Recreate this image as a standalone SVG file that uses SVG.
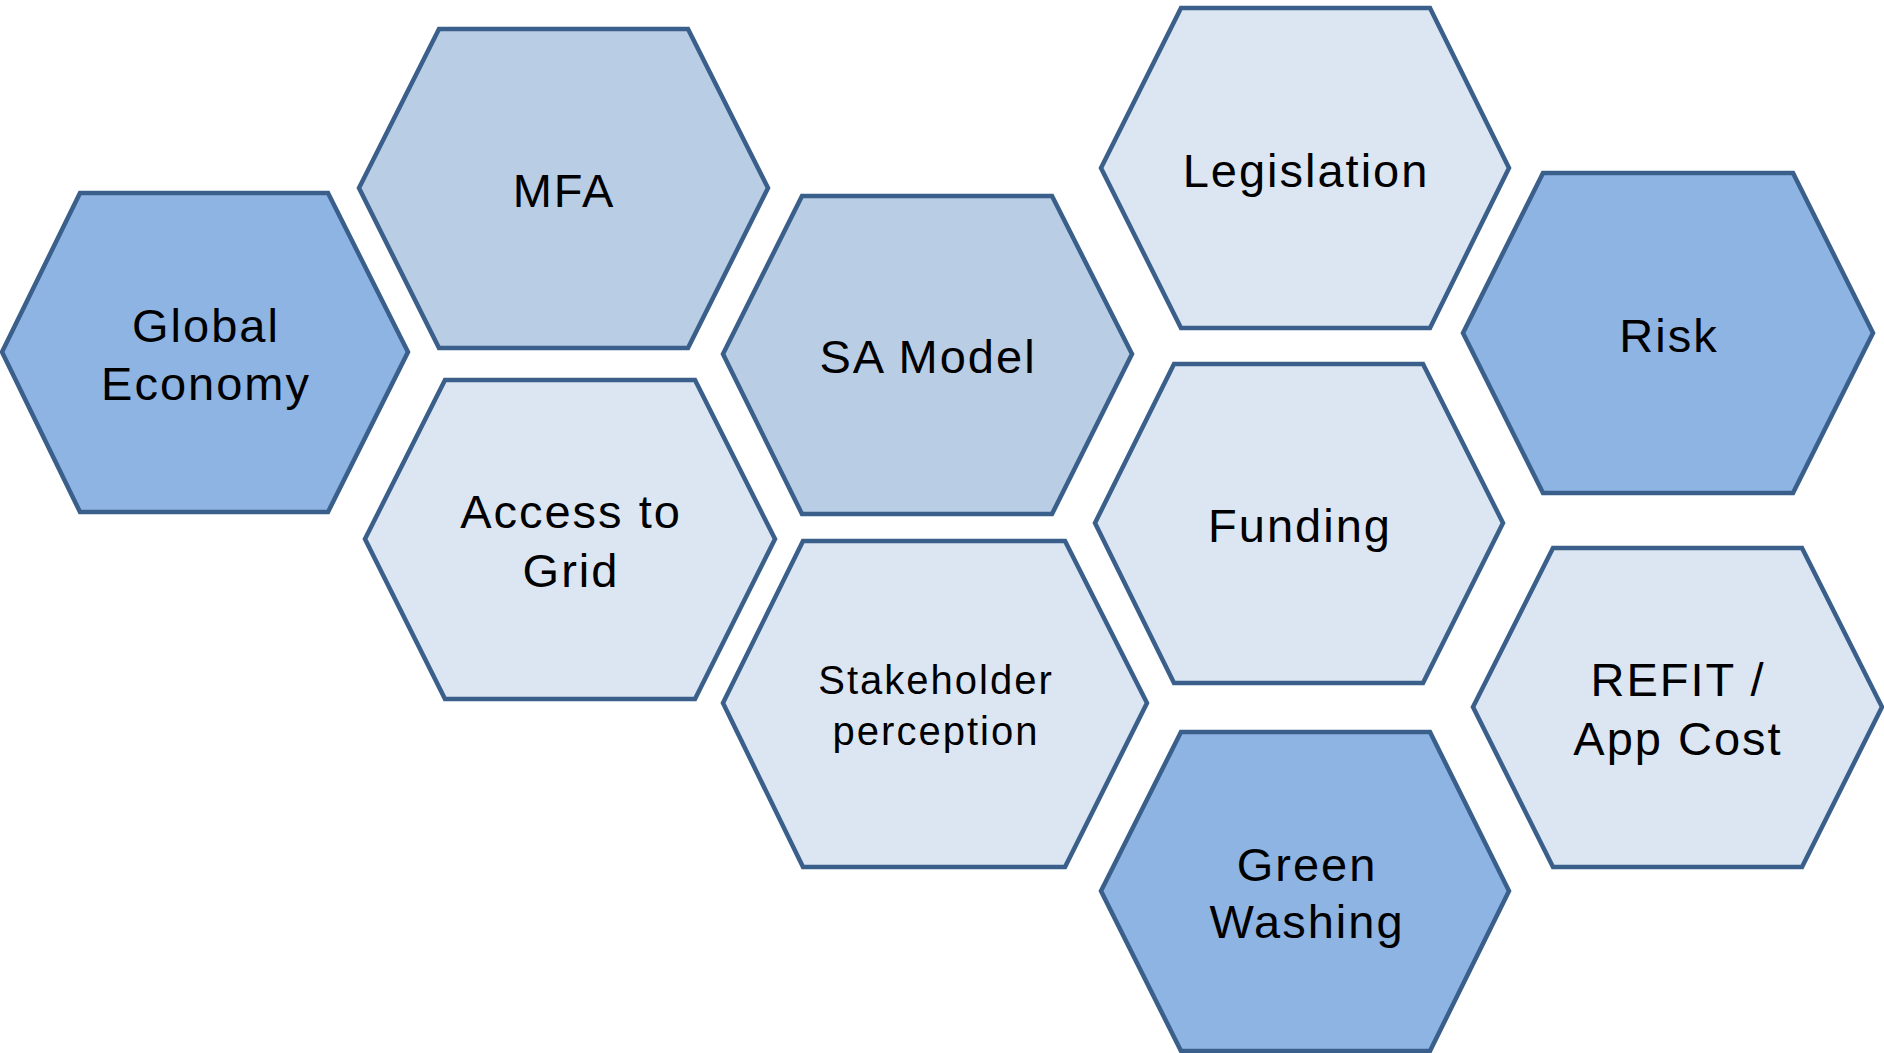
<svg xmlns="http://www.w3.org/2000/svg" width="1884" height="1053" viewBox="0 0 1884 1053">
<style>
.hex{stroke:#3A5F8B;stroke-width:4.5;stroke-linejoin:miter}
.d{fill:#8EB4E3}.m{fill:#B9CDE5}.l{fill:#DCE6F2}
.t{font-family:"Liberation Sans",Arial,sans-serif;font-size:47px;fill:#000;text-anchor:middle;letter-spacing:2px}
.s{font-size:40px}
</style>
<rect width="1884" height="1053" fill="#fff"/>
<g id="connectors"/>
<g id="global-economy">
<polygon class="hex d" points="2,352 80,193 328,193 408,352 328,512 80,512"/>
<text class="t" x="206" y="342">Global</text>
<text class="t" x="206" y="400">Economy</text>
</g>
<g id="mfa">
<polygon class="hex m" points="359,188 439,29 688,29 768,188 688,348 439,348"/>
<text class="t" x="564" y="207">MFA</text>
</g>
<g id="access-to-grid">
<polygon class="hex l" points="365,539 445,380 695,380 775,539 695,699 445,699"/>
<text class="t" x="571" y="528">Access to</text>
<text class="t" x="571" y="587">Grid</text>
</g>
<g id="sa-model">
<polygon class="hex m" points="723,354 802,196 1052,196 1132,354 1052,514 802,514"/>
<text class="t" x="928" y="373">SA Model</text>
</g>
<g id="stakeholder-perception">
<polygon class="hex l" points="723,703 803,541 1065,541 1147,703 1065,867 803,867"/>
<text class="t s" x="936" y="694">Stakeholder</text>
<text class="t s" x="936" y="745">perception</text>
</g>
<g id="legislation">
<polygon class="hex l" points="1101,168 1181,8 1430,8 1509,168 1430,328 1181,328"/>
<text class="t" x="1306" y="187">Legislation</text>
</g>
<g id="funding">
<polygon class="hex l" points="1095,523 1174,364 1423,364 1503,523 1423,683 1174,683"/>
<text class="t" x="1300" y="542">Funding</text>
</g>
<g id="green-washing">
<polygon class="hex d" points="1101,891 1181,732 1430,732 1509,891 1430,1051 1181,1051"/>
<text class="t" x="1307" y="881">Green</text>
<text class="t" x="1307" y="938">Washing</text>
</g>
<g id="risk">
<polygon class="hex d" points="1463,333 1543,173 1793,173 1873,333 1793,493 1543,493"/>
<text class="t" x="1669" y="352">Risk</text>
</g>
<g id="refit-app-cost">
<polygon class="hex l" points="1473,707 1553,548 1802,548 1882,707 1802,867 1553,867"/>
<text class="t" x="1678" y="696">REFIT /</text>
<text class="t" x="1678" y="755">App Cost</text>
</g>
</svg>
